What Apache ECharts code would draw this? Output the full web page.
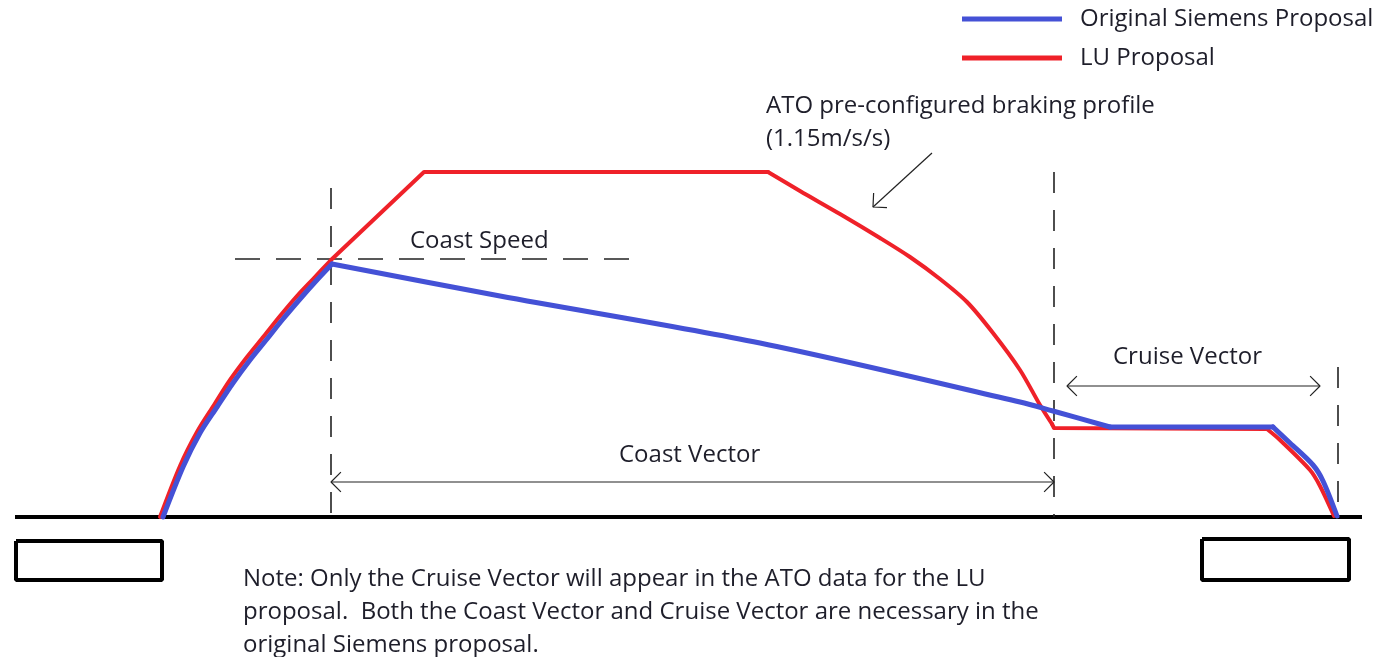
<!DOCTYPE html>
<html>
<head>
<meta charset="utf-8">
<title>Coast vector vs cruise vector</title>
<script src="https://cdn.jsdelivr.net/npm/echarts@6/dist/echarts.min.js"></script>
<style>
  html, body { margin: 0; padding: 0; background: #fff; }
  #chart { width: 1398px; height: 657px; }
</style>
</head>
<body>
<div id="chart"></div>
<script>
// drawing space is the picture itself: x 0..1398, y 0..657 (y down)
// Original Siemens proposal, piece by piece
const siemensRise = [
  [163, 517], [183, 467], [200, 433], [217, 407], [233, 383], [250, 360],
  [267, 339], [283, 319], [300, 299], [316, 281], [332, 264],
];
const siemensCoast = [[332, 264], [500, 296], [760, 343], [1020, 402], [1053, 411], [1110, 427]];
const siemensCruise = [[1110, 427], [1273, 427]];
const siemensStop = [[1273, 427], [1290, 443], [1313, 465], [1323, 481], [1337, 516]];
// LU proposal
const luRise = [
  [160, 517], [180, 466], [197, 432], [214, 405], [230, 380], [247, 357],
  [264, 336], [280, 316], [297, 296], [314, 278], [331, 260],
];
const luTop = [[331, 260], [424, 172], [768, 172]];
const luBrake = [
  [768, 172], [800, 191], [840, 214], [880, 238], [910, 257], [940, 279],
  [967, 302], [993, 333], [1020, 370], [1040, 405], [1052, 424],
];
const luCruise = [[1052, 424], [1054, 428], [1267, 429]];
const luStop = [[1267, 429], [1280, 440], [1310, 470], [1320, 486], [1334, 516]];

const trackLine = [[15, 517], [1362, 517]];
const platforms = [
  [[16, 541], [162, 541], [162, 580], [16, 580], [16, 541]],
  [[1202, 539], [1349, 539], [1349, 580], [1202, 580], [1202, 539]],
];
const guideLines = [
  [[331, 188], [331, 517]],
  [[235, 259], [640, 259]],
  [[1054, 172], [1054, 517]],
  [[1338, 367], [1338, 512]],
];
const arrowLines = [
  // [from, to, both ends]
  [[331, 482], [1054, 482], true],
  [[1067, 386], [1320, 386], true],
  [[932, 153], [873, 207], false],
];
const legendNames = ['Original Siemens Proposal', 'LU Proposal'];
const labels = [
  ['ATO pre-configured braking profile', 766, 106],
  ['(1.15m/s/s)', 766, 139],
  ['Coast Speed', 410, 241],
  ['Cruise Vector', 1113, 357],
  ['Coast Vector', 619, 455],
  ['Note: Only the Cruise Vector will appear in the ATO data for the LU', 243, 579],
  ['proposal.  Both the Coast Vector and Cruise Vector are necessary in the', 243, 612],
  ['original Siemens proposal.', 243, 645],
];

const FONT = '"Open Sans", sans-serif';
const FONT_SIZE = 24;
const TEXT_COLOR = '#1e1e2a';
const BLUE = '#4451d6';
const RED = '#ef2129';

const plain = (data, color, width, dash) => ({
  type: 'line',
  data,
  symbol: 'none',
  silent: true,
  z: 2,
  lineStyle: { color, width, type: dash || 'solid', cap: 'butt' },
});

const profile = (data, color, width, name, smooth) => ({
  type: 'line',
  name,
  data,
  symbol: 'none',
  silent: true,
  smooth: smooth ? 0.3 : false,
  z: 3,
  itemStyle: { color },
  lineStyle: { color, width, cap: 'round', join: 'round' },
});

// open "V" head at tip, legs at 45 degrees off the shaft
const arrowHead = (tip, from, len) => {
  const dx = from[0] - tip[0];
  const dy = from[1] - tip[1];
  const d = Math.sqrt(dx * dx + dy * dy);
  const ux = dx / d;
  const uy = dy / d;
  const c = Math.SQRT1_2;
  const a = [tip[0] + len * (ux * c - uy * c), tip[1] + len * (ux * c + uy * c)];
  const b = [tip[0] + len * (ux * c + uy * c), tip[1] + len * (-ux * c + uy * c)];
  return [a, tip, b];
};

const series = [];
series.push(plain(trackLine, '#000', 4));
platforms.forEach((p) => series.push(plain(p, '#000', 4)));
guideLines.forEach((g) => {
  const dash = g[0][1] === g[1][1] ? [25, 16] : [21, 17];
  series.push(plain(g, '#222', 1.6, dash));
});
arrowLines.forEach(([from, to, both]) => {
  series.push(plain([from, to], '#222', 1.2));
  series.push(plain(arrowHead(to, from, 14), '#222', 1.2));
  if (both) series.push(plain(arrowHead(from, to, 14), '#222', 1.2));
});
[[luRise, true], [luTop, false], [luBrake, true], [luCruise, false], [luStop, true]]
  .forEach(([d, s]) => series.push(profile(d, RED, 4, legendNames[1], s)));
[[siemensRise, true], [siemensCoast, true], [siemensCruise, false], [siemensStop, true]]
  .forEach(([d, s]) => series.push(profile(d, BLUE, 5, legendNames[0], s)));

const chart = echarts.init(document.getElementById('chart'));
chart.setOption({
  animation: false,
  backgroundColor: '#fff',
  grid: { left: 0, right: 0, top: 0, bottom: 0, containLabel: false },
  xAxis: { type: 'value', min: 0, max: 1398, show: false },
  yAxis: { type: 'value', min: 0, max: 657, inverse: true, show: false },
  legend: {
    data: legendNames,
    orient: 'vertical',
    left: 962,
    top: 4,
    padding: 0,
    icon: 'rect',
    itemWidth: 100,
    itemHeight: 5,
    itemGap: 9,
    selectedMode: false,
    textStyle: {
      fontFamily: FONT,
      fontSize: FONT_SIZE,
      lineHeight: 30,
      color: TEXT_COLOR,
      padding: [0, 0, 0, 13],
    },
  },
  graphic: labels.map(([text, x, y]) => ({
    type: 'text',
    left: x,
    top: y - 16,
    silent: true,
    style: {
      text,
      font: `${FONT_SIZE}px ${FONT}`,
      fill: TEXT_COLOR,
      lineHeight: 32,
    },
  })),
  series,
});
</script>
</body>
</html>
